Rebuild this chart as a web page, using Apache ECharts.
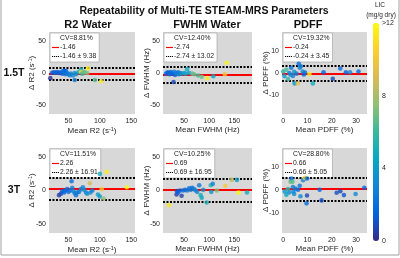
<!DOCTYPE html>
<html>
<head>
<meta charset="utf-8">
<script src="https://cdn.jsdelivr.net/npm/echarts@6/dist/echarts.min.js"></script>
<style>
html, body { margin: 0; padding: 0; background: #fff; }
#chart { width: 400px; height: 258px; }
</style>
</head>
<body>
<div id="chart"></div>
<script>
// each point: [mean, difference, LIC (mg/g dry)]
var r2_15T = [[21,-8,0.3],[24,0.5,1.5],[27,1,1.2],[30,0.5,1.8],[32,1.5,1.4],[35,0,1.6],[37,1,1.3],[40,-1,2.0],[41,2.5,1.9],[43,4,1.7],[44,1,2.2],[45,-2,2.3],[46,3,1.5],[48,0,2.6],[50,-2,2.4],[52,-3.5,2.8],[54,-1,3.0],[57,-4,3.2],[60,-11,2.8],[60,0,3.6],[62,-2,3.3],[66,1,4.4],[70,5.5,5.2],[70,1.5,11],[72,-1,5.6],[74,2,7.5],[76,1,6.6],[80,0,7.2],[81,7.5,11.5],[92,-11,6.5],[102,-13,11.5]];
var fwhm_15T = [[14,-1,1.5],[17,1,1.8],[19,0,1.2],[21,-2,2.0],[23,1.5,1.6],[25,0,2.2],[27,-1,1.4],[29,-14,0.8],[30,2,2.5],[32,-3,1.9],[34,0,2.6],[36,-1,3.0],[38,1,2.3],[40,-2,3.3],[42,0,2.8],[45,-1,3.4],[50,0,4.0],[53,-1,4.6],[56,6,4.8],[60,0,3.6],[66,-1,6.5],[70,-2,6.8],[78,-4,6.2],[85,-6,7.0],[96,-8,11.5],[108,-5,4.5],[131,-2,10.0],[135,16,11.8]];
var pdff_15T = [[0,0.7,5.5],[0.5,-1.4,3.8],[1.3,1.5,6.2],[2,-2.7,5.8],[2.5,0,2.5],[3,-0.8,3.2],[3.3,2.4,2.2],[4,-1.3,2.8],[4.5,0.5,3.6],[4.7,-4.7,3.8],[5.5,-0.3,2.6],[6,-4.7,9.5],[6.4,4.2,1.8],[6.8,2.4,2.9],[7.3,3,2.7],[8,0.7,3.3],[8.5,-0.7,1.4],[9,0.2,2.0],[10.8,-0.5,11.5],[12.2,-4.7,4.8],[16.6,0.3,1.5],[20.4,-2.6,0.9],[23.5,2,2.0],[25.8,0.3,1.5],[27.5,0.3,3.0],[31,0.7,1.7]];
var r2_3T = [[35,-7,0.5],[38,-5,0.8],[40,-1,1.2],[43,-3,1.5],[45,0,1.8],[48,2,2.0],[50,-2,1.6],[53,0,2.3],[55,14,2.0],[56,4,2.5],[58,-1,2.8],[60,-4,3.0],[62,-7,2.2],[64,-3,2.6],[67,-2,2.4],[70,2,3.1],[73,5,2.9],[75,1,3.3],[78,-3,2.7],[80,-5,3.6],[84,11,9.0],[85,-3,3.2],[88,0,2.5],[97,-6,4.2],[100,25,5.0],[100,-9,3.9],[103,2,10.0],[106,-12,7.5],[111,28,11.5],[143,5,12]];
var fwhm_3T = [[20,-22,11.5],[35,-6,0.5],[36,-1,1.0],[38,-3,1.6],[42,0,1.4],[45,-8,0.6],[48,0,2.2],[52,1,1.8],[56,0,2.5],[60,3.5,2.0],[63,1,2.8],[66,4,1.9],[70,2,2.6],[73,0,3.2],[76,-2,3.0],[80,8,2.4],[83,-7,5.0],[85,-11,4.6],[88,1,3.4],[95,-18,5.2],[103,8,5.4],[104,-2,3.6],[107,10,2.8],[115,0,7.2],[132,7,10.2],[145,16,8.5],[155,16,4.2],[158,-3,12],[175,-3,5.0]];
var pdff_3T = [[0.6,-0.4,3.8],[1.3,-1.8,4.5],[2,0.6,5.8],[2.5,-0.8,3.2],[3,3.8,7.0],[3.4,5.2,2.2],[3.8,3.8,6.5],[4,1.5,2.8],[4.2,-0.5,3.0],[4.5,-1.5,3.5],[5,0.8,2.5],[6.1,0.3,2.0],[6.8,2.1,2.4],[7.1,-2.5,3.1],[8.2,4.5,3.0],[8.9,5.5,11.0],[9.8,5.2,1.5],[9.8,-2.2,0.8],[9.6,-5.6,2.0],[15,0.3,1.8],[15.8,-4.3,0.9],[22,-1,1.0],[23.5,-0.3,0.7],[25,-2,1.2],[29.8,-1.5,3.2],[33.4,1.2,1.6]];

var panelData = [r2_15T, fwhm_15T, pdff_15T, r2_3T, fwhm_3T, pdff_3T];
var bias = [-1.46, -2.74, -0.24, 2.26, 0.69, 0.66];
var limit = [9.38, 13.02, 3.45, 16.91, 16.95, 5.05];
var cv = ['8.81', '12.40', '19.32', '11.51', '10.25', '28.80'];

var columnTitles = ['R2 Water', 'FWHM Water', 'PDFF'];
var rowTitles = ['1.5T', '3T'];
var xNames = ['Mean R2 (s{sup|-1})', 'Mean FWHM (Hz)', 'Mean PDFF (%)'];
var yNames = ['\u0394 R2 (s{sup|-1})', '\u0394 FWHM (Hz)', '\u0394 PDFF (%)'];
var xTicks = [[50, 100, 150], [50, 100, 150], [0, 10, 20, 30]];
var yTicks = [[-50, 0, 50], [-50, 0, 50], [-10, 0, 10]];
var xRange = [[19, 156], [8, 185], [-0.5, 34.5]];
var yRange = [[-64, 64], [-64, 64], [-18.5, 18.5]];
var licTicks = [0, 4, 8, 12];

var parula = ['#352a87','#0363e1','#1485d4','#06a7c6','#38b99e','#92bf73','#d9ba56','#fcce2e','#f9fb0e'];

var FONT = 'Liberation Sans, Arial, Helvetica, sans-serif';
var colLeft = [49, 163, 282];
var colWidth = [86, 89, 85];
var rowTop = [32, 148];
var rowHeight = [82, 85];

// legend glyphs: solid red bar, dotted black bar
var ICON_SOLID = 'path://M0,0h12v2h-12z';
var ICON_DOTS = 'path://M0,0h2v2h-2zM3.33,0h2v2h-2zM6.67,0h2v2h-2zM10,0h2v2h-2z';

var chart = echarts.init(document.getElementById('chart'), null, { renderer: 'canvas' });

var grids = [], xAxes = [], yAxes = [], series = [], legends = [], scatterIdx = [];
var supRich = { sup: { fontSize: 5.5, verticalAlign: 'top', padding: [0, 0, 4, 0], fontFamily: FONT, color: '#262626' } };

for (var i = 0; i < 6; i++) {
  var c = i % 3, r = Math.floor(i / 3);
  grids.push({ left: colLeft[c], top: rowTop[r], width: colWidth[c], height: rowHeight[r],
    show: true, backgroundColor: '#d8d8d8', borderWidth: 0 });
  xAxes.push({
    gridIndex: i, type: 'value', min: xRange[c][0], max: xRange[c][1],
    axisLine: { show: false }, axisTick: { show: false }, splitLine: { show: false },
    axisLabel: { customValues: xTicks[c], fontSize: 7, color: '#262626', margin: 4, fontFamily: FONT },
    name: xNames[c], nameLocation: 'middle', nameGap: 12, nameMoveOverlap: false,
    nameTextStyle: { fontSize: 8, color: '#262626', fontFamily: FONT, rich: supRich }
  });
  yAxes.push({
    gridIndex: i, type: 'value', min: yRange[c][0], max: yRange[c][1],
    axisLine: { show: false }, axisTick: { show: false }, splitLine: { show: false },
    axisLabel: { customValues: yTicks[c], fontSize: 7, color: '#262626', margin: 3, fontFamily: FONT },
    name: yNames[c], nameLocation: 'middle', nameGap: 12, nameMoveOverlap: false,
    nameTextStyle: { fontSize: 8, color: '#262626', fontFamily: FONT, rich: supRich }
  });

  var cvName = 'CV=' + cv[i] + '%';
  var biasName = bias[i].toFixed(2);
  var limName = bias[i].toFixed(2) + ' \u00b1 ' + limit[i].toFixed(2);

  series.push({
    type: 'line', name: biasName, xAxisIndex: i, yAxisIndex: i, data: [],
    symbol: 'none', lineStyle: { color: '#ff0000', width: 2 }, itemStyle: { color: '#ff0000' },
    markLine: { silent: true, symbol: 'none', label: { show: false },
      lineStyle: { color: '#ff0000', width: 2, type: 'solid' }, data: [{ yAxis: bias[i] }] }
  });
  series.push({
    type: 'line', name: limName, xAxisIndex: i, yAxisIndex: i, data: [],
    symbol: 'none', lineStyle: { color: '#000', width: 2, type: [2, 1.5] }, itemStyle: { color: '#000' },
    markLine: { silent: true, symbol: 'none', label: { show: false },
      lineStyle: { color: '#000', width: 2, type: [2, 1.5] },
      data: [{ yAxis: bias[i] + limit[i] }, { yAxis: bias[i] - limit[i] }] }
  });
  series.push({ type: 'line', name: cvName, xAxisIndex: i, yAxisIndex: i, data: [], symbol: 'none' });
  scatterIdx.push(series.length);
  series.push({
    type: 'scatter', xAxisIndex: i, yAxisIndex: i, data: panelData[i],
    symbolSize: 4.6, z: 5
  });

  legends.push({
    left: colLeft[c] + 1, top: rowTop[r] + 1, orient: 'vertical',
    backgroundColor: '#fff', borderColor: '#9a9a9a', borderWidth: 0.6,
    padding: [2, 3, 2, 2], itemGap: 2, itemWidth: 7, itemHeight: 2, selectedMode: false,
    textStyle: { fontSize: 6.8, color: '#222', fontFamily: FONT, padding: [0, 0, 0, -4] },
    data: [
      { name: cvName, icon: 'none' },
      { name: biasName, icon: ICON_SOLID, itemStyle: { color: '#ff0000' } },
      { name: limName, icon: ICON_DOTS, itemStyle: { color: '#000' } }
    ]
  });
}

// colour bar tick axis
grids.push({ left: 373, top: 23, width: 6, height: 218, show: false });
xAxes.push({ gridIndex: 6, type: 'value', show: false });
yAxes.push({
  gridIndex: 6, type: 'value', min: 0, max: 12, interval: 4, position: 'right',
  axisLine: { show: false }, axisTick: { show: false }, splitLine: { show: false },
  axisLabel: { fontSize: 7, color: '#262626', margin: 3, fontFamily: FONT,
    formatter: function (v) { return v === licTicks[3] ? '>' + v : String(v); } }
});

var graphics = [
  { type: 'text', x: 204, y: 11, style: { text: 'Repeatability of Multi-TE STEAM-MRS Parameters', font: 'bold 10.5px ' + FONT, fill: '#111', textAlign: 'center', textVerticalAlign: 'middle' } },
  { type: 'text', x: 380, y: 5, style: { text: 'LIC', font: '6.5px ' + FONT, fill: '#262626', textAlign: 'center', textVerticalAlign: 'middle' } },
  { type: 'text', x: 381, y: 15, style: { text: '(mg/g dry)', font: '6.5px ' + FONT, fill: '#262626', textAlign: 'center', textVerticalAlign: 'middle' } },
  { type: 'rect', shape: { x: 1, y: -2, width: 398, height: 257 }, style: { fill: 'none', stroke: '#a0a0a0', lineWidth: 1 }, silent: true }
];
var colTitleX = [88, 207, 308];
columnTitles.forEach(function (t, k) {
  graphics.push({ type: 'text', x: colTitleX[k], y: 25, style: { text: t, font: 'bold 11px ' + FONT, fill: '#111', textAlign: 'center', textVerticalAlign: 'middle' } });
});
var rowTitleY = [73, 190];
rowTitles.forEach(function (t, k) {
  graphics.push({ type: 'text', x: 14, y: rowTitleY[k], style: { text: t, font: 'bold 10.5px ' + FONT, fill: '#111', textAlign: 'center', textVerticalAlign: 'middle' } });
});

var option = {
  animation: false,
  backgroundColor: '#fff',
  textStyle: { fontFamily: FONT },
  grid: grids,
  xAxis: xAxes,
  yAxis: yAxes,
  legend: legends,
  visualMap: {
    type: 'continuous', min: 0, max: 12, dimension: 2, seriesIndex: scatterIdx,
    inRange: { color: parula }, left: 373, top: 23, itemWidth: 6, itemHeight: 218,
    padding: 0, calculable: false, hoverLink: false, showLabel: false, text: null
  },
  graphic: graphics,
  series: series
};
chart.setOption(option);
</script>
</body>
</html>
